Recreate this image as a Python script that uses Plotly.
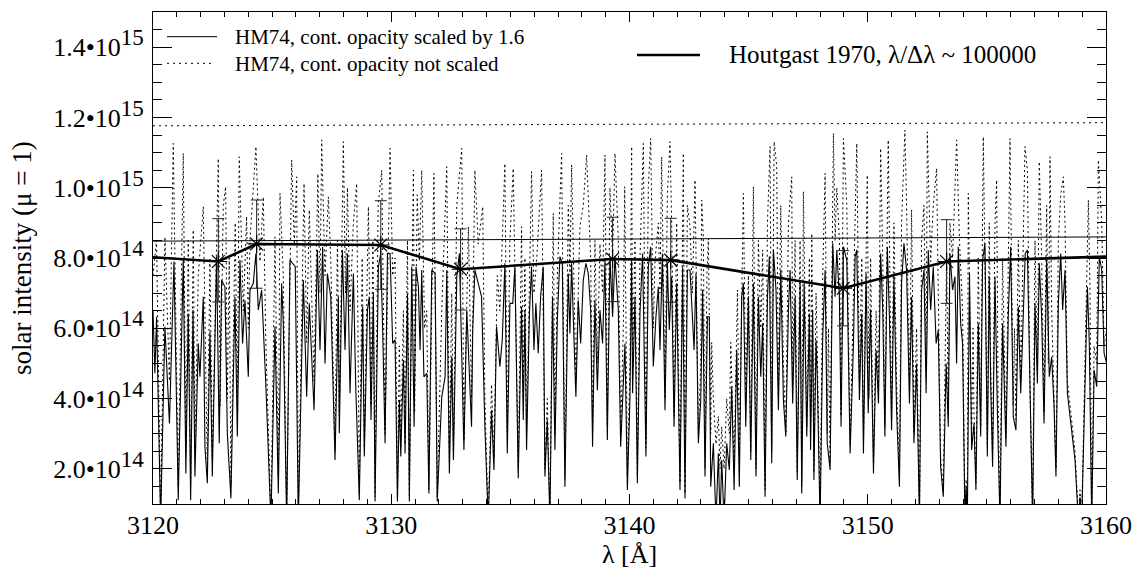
import numpy as np
import plotly.graph_objects as go

# ---------------- data (wavelength in Angstrom, intensity in units of 1e14) ----------------
scaled_wl = [
    3120.00, 3120.08, 3120.15, 3120.32, 3120.50, 3120.69, 3120.88, 3121.06, 3121.27, 3121.38,
    3121.48, 3121.58, 3121.68, 3121.76, 3121.90, 3121.97, 3122.11, 3122.18, 3122.28, 3122.39,
    3122.49, 3122.67, 3122.78, 3122.88, 3123.02, 3123.12, 3123.27, 3123.44, 3123.54, 3123.65,
    3123.76, 3123.86, 3124.00, 3124.07, 3124.21, 3124.32, 3124.42, 3124.56, 3124.74, 3124.95,
    3125.12, 3125.26, 3125.40, 3125.47, 3125.61, 3125.75, 3125.86, 3125.97, 3126.10, 3126.31,
    3126.45, 3126.56,
    3126.76, 3126.90, 3127.01, 3127.12, 3127.22, 3127.32, 3127.46, 3127.64, 3127.78, 3127.82,
    3127.95, 3128.06, 3128.16, 3128.27, 3128.41, 3128.51, 3128.66, 3128.80, 3128.87, 3129.00,
    3129.08, 3129.15, 3129.25, 3129.32, 3129.46, 3129.56, 3129.64, 3129.74, 3129.84, 3129.95,
    3130.06, 3130.16, 3130.26, 3130.34, 3130.40, 3130.51, 3130.58, 3130.68, 3130.76, 3130.86,
    3130.96, 3131.04, 3131.14, 3131.21, 3131.28, 3131.37, 3131.49, 3131.58, 3131.70, 3131.84,
    3131.93, 3132.12, 3132.26, 3132.33, 3132.44, 3132.54, 3132.61, 3132.75, 3132.86, 3132.96,
    3133.05, 3133.17, 3133.28,
    3133.37, 3133.42, 3133.51, 3133.65, 3133.79, 3133.93, 3134.07, 3134.21, 3134.31, 3134.42,
    3134.56, 3134.66, 3134.77, 3134.87, 3134.98, 3135.10, 3135.19, 3135.33, 3135.47, 3135.54,
    3135.61, 3135.68, 3135.80, 3135.89, 3135.99, 3136.07, 3136.17, 3136.27, 3136.38, 3136.45,
    3136.55, 3136.66, 3136.77, 3136.87, 3136.97, 3137.08, 3137.18, 3137.29, 3137.43, 3137.50,
    3137.57, 3137.64, 3137.75, 3137.85, 3137.95, 3138.06, 3138.17, 3138.27, 3138.37, 3138.45,
    3138.55, 3138.65, 3138.76, 3138.87, 3138.97, 3139.07, 3139.18, 3139.29, 3139.39, 3139.53,
    3139.63, 3139.74, 3139.81, 3139.91, 3140.02,
    3140.09, 3140.13, 3140.23, 3140.33, 3140.44, 3140.55, 3140.69, 3140.79, 3140.89, 3141.00,
    3141.11, 3141.21, 3141.28, 3141.38, 3141.49, 3141.59, 3141.67, 3141.77, 3141.87, 3141.98,
    3142.12, 3142.23, 3142.33, 3142.43, 3142.54, 3142.71, 3142.79, 3142.89, 3142.99, 3143.07,
    3143.17, 3143.27, 3143.35, 3143.41, 3143.52, 3143.63, 3143.73, 3143.80, 3143.87, 3143.97,
    3144.08, 3144.19, 3144.29, 3144.39, 3144.50, 3144.61, 3144.71, 3144.78, 3144.88, 3144.99,
    3145.09, 3145.20, 3145.31, 3145.41, 3145.51, 3145.59, 3145.69, 3145.79, 3145.87, 3145.97,
    3146.04, 3146.15, 3146.25, 3146.35, 3146.46, 3146.56, 3146.67,
    3146.74, 3146.85, 3146.95, 3147.04, 3147.16, 3147.23, 3147.33, 3147.44, 3147.55, 3147.60,
    3147.69, 3147.74, 3147.83, 3147.88, 3148.00, 3148.11, 3148.21, 3148.30, 3148.42, 3148.53,
    3148.63, 3148.70, 3148.81, 3148.88, 3148.98, 3149.12, 3149.26, 3149.40, 3149.47, 3149.54,
    3149.65, 3149.75, 3149.82, 3149.93, 3150.02, 3150.12, 3150.24, 3150.35, 3150.45, 3150.54,
    3150.63, 3150.72, 3150.82, 3150.91, 3151.00, 3151.10, 3151.21, 3151.33, 3151.42, 3151.52,
    3151.63, 3151.75, 3151.84, 3151.94, 3152.05, 3152.17, 3152.26, 3152.36, 3152.45, 3152.54,
    3152.64, 3152.75, 3152.87, 3152.96, 3153.06, 3153.17, 3153.29, 3153.38,
    3153.45, 3153.56, 3153.66, 3153.73, 3153.80, 3153.90, 3153.98, 3154.08, 3154.13, 3154.18,
    3154.27, 3154.36, 3154.46, 3154.54, 3154.64, 3154.74, 3154.82, 3154.92, 3155.02, 3155.10,
    3155.16, 3155.24, 3155.34, 3155.44, 3155.55, 3155.66, 3155.80, 3155.90, 3156.00, 3156.11,
    3156.22, 3156.32, 3156.42, 3156.50, 3156.61, 3156.70, 3156.81, 3156.92, 3157.02, 3157.12,
    3157.20, 3157.30, 3157.40, 3157.51, 3157.62, 3157.72, 3157.82, 3157.90, 3158.00, 3158.10,
    3158.18, 3158.28, 3158.38, 3158.49, 3158.60, 3158.70, 3158.84, 3158.91, 3158.98, 3159.12,
    3159.22, 3159.30, 3159.40, 3159.50, 3159.61, 3159.72, 3159.82, 3159.92, 3160.03,
]
scaled_int = [
    6.52, 4.72, 6.33, 0.50, 6.05, 3.29, 7.90, 1.11, 7.99, 1.87,
    6.42, 1.11, 6.52, 1.78, 5.57, 4.62, 6.90, 2.63, 1.59, 5.90,
    1.78, 8.04, 2.73, 7.37, 7.18, 3.01, 1.16, 6.90, 2.92, 7.94,
    5.57, 6.80, 4.62, 7.09, 7.28, 8.13, 6.52, 7.09, 4.34, 0.50,
    6.05, 1.30, 7.28, 6.14, 0.50, 7.94, 7.85, 7.75, 0.50, 7.37,
    4.05, 6.71,
    3.67, 8.23, 5.38, 8.32, 5.00, 7.56, 6.90, 2.25, 6.90, 3.01,
    8.23, 5.38, 8.13, 4.15, 7.56, 4.34, 1.11, 6.61, 2.35, 6.52,
    6.90, 3.39, 6.99, 1.07, 7.75, 8.13, 5.95, 2.73, 8.13, 8.13,
    5.57, 5.67, 1.07, 3.96, 2.35, 5.10, 2.44, 6.99, 1.07, 7.75,
    3.20, 7.75, 7.18, 5.38, 7.66, 4.62, 4.72, 1.30, 7.66, 7.56,
    1.07, 4.05, 4.62, 7.66, 1.87, 5.19, 2.25, 7.47, 8.13, 5.57,
    2.54, 6.52, 4.43,
    3.20, 5.95, 7.66, 7.28, 6.90, 3.20, 0.50, 3.67, 1.97, 6.05,
    4.91, 5.67, 7.85, 2.44, 6.71, 6.71, 7.75, 1.73, 6.61, 3.39,
    6.52, 2.54, 6.42, 7.75, 5.38, 6.71, 5.29, 6.90, 7.75, 1.78,
    3.39, 0.50, 6.90, 2.54, 6.23, 8.04, 7.85, 1.49, 7.56, 5.85,
    7.85, 6.33, 4.05, 6.80, 5.57, 7.37, 7.85, 7.56, 6.52, 2.63,
    6.80, 4.24, 6.52, 5.57, 7.94, 2.82, 8.04, 6.33, 8.04, 6.52,
    2.63, 4.43, 5.57, 1.40, 4.05,
    7.94, 4.15, 6.90, 1.59, 6.42, 8.13, 2.35, 7.75, 8.32, 4.91,
    6.33, 7.18, 5.38, 8.13, 3.67, 7.85, 5.95, 7.47, 3.20, 7.28,
    1.40, 7.75, 1.16, 7.66, 7.66, 5.38, 7.56, 2.73, 3.96, 7.09,
    1.78, 6.33, 6.33, 1.49, 2.73, 0.50, 2.44, 0.50, 2.25, 0.50,
    2.73, 1.97, 4.34, 1.40, 5.38, 1.49, 6.90, 7.28, 3.20, 6.90,
    2.25, 7.28, 1.78, 6.90, 4.62, 6.14, 1.21, 6.90, 8.04, 2.16,
    8.23, 7.09, 3.67, 7.66, 3.96, 2.92, 6.52,
    7.66, 3.86, 6.90, 1.68, 7.28, 1.30, 7.28, 2.92, 6.42, 2.54,
    6.52, 1.68, 5.67, 4.62, 0.50, 5.76, 7.66, 2.73, 1.97, 8.42,
    6.90, 8.23, 6.90, 3.20, 8.32, 7.94, 2.44, 5.57, 8.04, 8.23,
    3.96, 6.42, 2.44, 7.56, 3.58, 6.52, 1.87, 5.38, 3.86, 8.13,
    6.52, 2.92, 8.32, 6.33, 3.10, 7.47, 3.67, 1.49, 7.28, 8.42,
    7.66, 3.86, 6.90, 2.73, 5.00, 0.50, 7.09, 7.66, 4.15, 8.23,
    6.52, 7.75, 5.57, 5.95, 2.06, 1.21, 5.00, 3.20,
    8.13, 7.09, 7.47, 5.00, 8.32, 6.14, 5.57, 0.50, 1.50, 0.50,
    7.56, 2.54, 3.29, 1.40, 6.14, 2.92, 7.94, 8.42, 2.35, 7.47,
    4.43, 2.06, 7.47, 3.67, 0.50, 6.14, 2.63, 6.42, 8.32, 3.48,
    3.10, 6.61, 4.15, 5.76, 8.13, 8.23, 3.96, 0.50, 6.71, 4.43,
    7.85, 6.33, 3.29, 7.94, 4.62, 5.19, 3.77, 1.78, 6.71, 8.13,
    6.52, 7.66, 4.15, 3.48, 2.73, 2.25, 0.50, 1.20, 0.50, 4.15,
    7.18, 5.57, 0.50, 4.81, 4.34, 8.04, 7.66, 5.29, 5.00,
]

unscaled_wl = [
    3120.00, 3120.15, 3120.32, 3120.50, 3120.69, 3120.85, 3121.06, 3121.27, 3121.38, 3121.48,
    3121.58, 3121.69, 3121.76, 3121.90, 3122.11, 3122.28, 3122.39, 3122.49, 3122.74, 3122.82,
    3122.95, 3123.05, 3123.12, 3123.20, 3123.27, 3123.45, 3123.54, 3123.62, 3123.79, 3123.93,
    3124.00, 3124.07, 3124.32, 3124.49, 3124.63, 3124.74, 3124.95, 3125.12, 3125.26, 3125.33,
    3125.47, 3125.61, 3125.82, 3125.93, 3126.03, 3126.10, 3126.34, 3126.45, 3126.56,
    3126.76, 3126.92, 3127.01, 3127.08, 3127.22, 3127.36, 3127.46, 3127.64, 3127.74, 3127.82,
    3127.99, 3128.08, 3128.16, 3128.27, 3128.41, 3128.55, 3128.66, 3128.78, 3128.87, 3129.04,
    3129.15, 3129.23, 3129.32, 3129.45, 3129.60, 3129.74, 3129.95, 3130.06, 3130.16, 3130.26,
    3130.34, 3130.40, 3130.51, 3130.58, 3130.68, 3130.76, 3130.93, 3130.98, 3131.09, 3131.18,
    3131.28, 3131.40, 3131.49, 3131.58, 3131.79, 3131.93, 3132.12, 3132.33, 3132.44, 3132.54,
    3132.61, 3132.75, 3132.96, 3133.05, 3133.24,
    3133.37, 3133.51, 3133.65, 3133.84, 3133.93, 3134.07, 3134.21, 3134.31, 3134.45, 3134.56,
    3134.77, 3134.87, 3134.98, 3135.12, 3135.33, 3135.47, 3135.54, 3135.61, 3135.68, 3135.89,
    3135.99, 3136.10, 3136.31, 3136.45, 3136.55, 3136.66, 3136.80, 3136.87, 3136.97, 3137.15,
    3137.29, 3137.43, 3137.50, 3137.57, 3137.75, 3137.92, 3138.06, 3138.20, 3138.37, 3138.45,
    3138.55, 3138.65, 3138.76, 3138.87, 3138.97, 3139.07, 3139.18, 3139.29, 3139.39, 3139.53,
    3139.63, 3139.74, 3139.80, 3139.91, 3140.02,
    3140.09, 3140.13, 3140.23, 3140.33, 3140.44, 3140.58, 3140.69, 3140.79, 3140.89, 3141.00,
    3141.07, 3141.21, 3141.28, 3141.35, 3141.49, 3141.59, 3141.70, 3141.77, 3141.87, 3141.98,
    3142.12, 3142.26, 3142.33, 3142.43, 3142.54, 3142.64, 3142.75, 3142.89, 3142.99, 3143.03,
    3143.10, 3143.17, 3143.25, 3143.31, 3143.41, 3143.45, 3143.52, 3143.63, 3143.73, 3143.80,
    3143.87, 3143.97, 3144.08, 3144.19, 3144.25, 3144.39, 3144.53, 3144.61, 3144.78, 3144.88,
    3144.99, 3145.09, 3145.20, 3145.31, 3145.41, 3145.51, 3145.59, 3145.69, 3145.79, 3145.90,
    3145.97, 3146.07, 3146.18, 3146.25, 3146.35, 3146.46, 3146.56, 3146.67,
    3146.81, 3146.85, 3146.95, 3147.04, 3147.16, 3147.23, 3147.30, 3147.44, 3147.55, 3147.60,
    3147.65, 3147.74, 3147.83, 3147.88, 3148.00, 3148.11, 3148.21, 3148.30, 3148.35, 3148.42,
    3148.56, 3148.63, 3148.70, 3148.81, 3148.88, 3148.98, 3149.12, 3149.26, 3149.40, 3149.54,
    3149.65, 3149.75, 3149.82, 3149.98, 3150.05, 3150.12, 3150.24, 3150.35, 3150.45, 3150.54,
    3150.63, 3150.72, 3150.86, 3151.00, 3151.10, 3151.21, 3151.33, 3151.42, 3151.56, 3151.63,
    3151.75, 3151.84, 3151.94, 3152.05, 3152.17, 3152.26, 3152.36, 3152.45, 3152.50, 3152.64,
    3152.75, 3152.89, 3152.96, 3153.06, 3153.17, 3153.31, 3153.38,
    3153.45, 3153.56, 3153.66, 3153.73, 3153.85, 3153.98, 3154.08, 3154.13, 3154.18, 3154.22,
    3154.36, 3154.42, 3154.46, 3154.54, 3154.64, 3154.74, 3154.85, 3155.02, 3155.10, 3155.16,
    3155.24, 3155.34, 3155.41, 3155.47, 3155.55, 3155.66, 3155.80, 3155.90, 3155.97, 3156.11,
    3156.16, 3156.22, 3156.32, 3156.42, 3156.50, 3156.60, 3156.70, 3156.81, 3156.92, 3157.02,
    3157.12, 3157.20, 3157.30, 3157.40, 3157.51, 3157.58, 3157.65, 3157.72, 3157.82, 3157.90,
    3158.00, 3158.10, 3158.21, 3158.28, 3158.38, 3158.49, 3158.60, 3158.70, 3158.84, 3158.91,
    3158.98, 3159.12, 3159.26, 3159.33, 3159.40, 3159.50, 3159.61, 3159.68, 3159.82, 3159.92,
    3160.03,
]
unscaled_int = [
    7.50, 8.50, 0.60, 8.60, 4.50, 11.26, 1.50, 10.98, 2.50, 8.50,
    1.50, 8.80, 2.50, 7.50, 9.46, 2.00, 8.00, 2.30, 10.83, 3.80,
    9.50, 10.03, 4.00, 8.00, 1.50, 9.00, 4.00, 10.88, 6.50, 9.18,
    6.00, 8.50, 11.17, 7.90, 9.74, 5.50, 0.60, 8.60, 1.80, 9.84,
    7.50, 0.60, 10.79, 8.40, 10.31, 0.80, 10.12, 5.60, 9.37,
    4.50, 10.40, 7.00, 11.36, 7.50, 9.74, 8.00, 2.50, 8.50, 3.50,
    11.31, 7.00, 10.00, 6.50, 9.00, 10.12, 1.30, 8.00, 2.60, 9.46,
    3.80, 8.50, 1.20, 9.50, 10.50, 3.00, 11.12, 7.50, 8.00, 1.20,
    5.50, 2.60, 6.50, 2.70, 8.50, 1.20, 10.50, 3.60, 9.80, 7.90,
    10.50, 6.00, 6.50, 1.40, 10.41, 1.20, 6.50, 10.60, 2.20, 7.00,
    2.50, 9.50, 11.12, 2.80, 8.89,
    4.00, 10.50, 8.40, 9.46, 4.00, 0.60, 4.40, 2.30, 7.50, 6.50,
    10.69, 3.00, 8.50, 10.55, 2.00, 8.89, 4.00, 8.00, 3.00, 10.46,
    7.00, 7.90, 10.50, 2.00, 4.00, 0.60, 9.27, 3.00, 7.50, 10.98,
    1.70, 9.50, 7.50, 10.65, 4.50, 8.90, 9.50, 10.93, 8.00, 3.00,
    8.50, 5.00, 8.40, 7.00, 10.93, 3.20, 10.00, 8.00, 10.98, 8.50,
    3.00, 6.00, 10.03, 1.80, 5.00,
    11.17, 5.00, 8.50, 1.80, 8.00, 11.26, 2.60, 10.00, 11.40, 6.00,
    7.90, 9.00, 7.00, 10.88, 4.00, 9.80, 11.31, 9.00, 3.50, 9.00,
    1.60, 10.98, 1.30, 9.50, 8.90, 7.00, 10.22, 3.00, 5.00, 9.65,
    8.60, 2.00, 7.50, 8.56, 3.00, 5.60, 4.00, 2.70, 3.50, 2.00,
    3.20, 2.00, 4.00, 3.00, 5.60, 2.00, 7.09, 2.50, 9.84, 4.00,
    7.50, 2.50, 10.03, 2.00, 8.50, 6.00, 8.23, 1.40, 9.00, 11.17,
    2.50, 11.31, 10.60, 4.00, 9.50, 5.00, 3.00, 8.99,
    10.31, 4.50, 8.50, 1.90, 8.50, 1.50, 9.89, 3.20, 8.00, 2.80,
    8.70, 1.90, 7.00, 5.50, 0.60, 7.50, 10.41, 3.00, 6.00, 2.20,
    11.55, 8.50, 10.00, 8.50, 3.50, 11.40, 9.50, 2.70, 7.00, 11.26,
    4.50, 8.00, 2.70, 10.36, 4.00, 8.00, 2.10, 6.50, 4.20, 11.12,
    8.00, 3.20, 11.36, 3.40, 9.00, 4.50, 1.70, 9.00, 11.64, 9.50,
    4.20, 9.37, 3.00, 6.00, 0.60, 8.50, 9.50, 5.00, 11.59, 7.90,
    9.50, 10.55, 7.00, 2.30, 1.40, 8.04, 3.50,
    9.00, 8.00, 10.00, 11.36, 8.50, 6.50, 0.60, 1.70, 0.60, 9.84,
    2.80, 6.00, 3.60, 1.60, 8.00, 3.20, 11.45, 2.60, 9.00, 5.00,
    2.30, 9.00, 10.22, 4.00, 0.60, 8.00, 2.90, 9.00, 11.40, 3.80,
    6.00, 3.40, 8.50, 4.50, 7.50, 11.17, 10.50, 4.30, 0.60, 8.50,
    4.80, 10.74, 8.00, 3.60, 9.50, 5.00, 10.88, 6.50, 4.00, 2.00,
    8.50, 9.80, 10.31, 9.00, 4.50, 3.80, 3.00, 2.50, 0.60, 1.40,
    0.60, 5.00, 9.65, 7.00, 0.60, 5.50, 5.00, 10.79, 9.00, 5.50,
    6.00,
]

# continuum levels of the two model spectra
cont_wl = [3120.0, 3160.0]
cont_scaled = [8.48, 8.60]
cont_unscaled = [11.76, 11.85]

# Houtgast (1970) observed points with error bars
hout_wl = [3122.74, 3124.35, 3129.56, 3132.91, 3139.29, 3141.73, 3148.97, 3153.31]
hout_int = [7.90, 8.40, 8.37, 7.68, 7.97, 7.94, 7.14, 7.90]
hout_err_up = [1.22, 1.25, 1.26, 1.15, 1.19, 1.19, 1.07, 1.19]
hout_err_dn = [1.15, 1.26, 1.26, 1.16, 1.21, 1.20, 1.07, 1.19]
hout_edge_wl = [3120.0, 3160.0]
hout_edge_int = [8.02, 8.04]

y_tick_vals = [2, 4, 6, 8, 10, 12, 14]
y_tick_text = ["2.0•10", "4.0•10", "6.0•10", "8.0•10", "1.0•10", "1.2•10", "1.4•10"]
y_tick_exp = ["14", "14", "14", "14", "15", "15", "15"]

UNIT = 1e14
FONT = "Liberation Serif, Times New Roman, serif"

fig = go.Figure()

fig.add_trace(go.Scatter(
    x=unscaled_wl, y=np.array(unscaled_int) * UNIT, mode="lines",
    line=dict(color="black", width=1, dash="2px,3px"), hoverinfo="skip", showlegend=False))
fig.add_trace(go.Scatter(
    x=scaled_wl, y=np.array(scaled_int) * UNIT, mode="lines",
    line=dict(color="black", width=1.1), hoverinfo="skip", showlegend=False))
fig.add_trace(go.Scatter(
    x=cont_wl, y=np.array(cont_unscaled) * UNIT, mode="lines",
    line=dict(color="black", width=1, dash="2px,4px"), showlegend=False))
fig.add_trace(go.Scatter(
    x=cont_wl, y=np.array(cont_scaled) * UNIT, mode="lines",
    line=dict(color="black", width=1), showlegend=False))

line_wl = [hout_edge_wl[0]] + hout_wl + [hout_edge_wl[1]]
line_int = [hout_edge_int[0]] + hout_int + [hout_edge_int[1]]
fig.add_trace(go.Scatter(
    x=line_wl, y=np.array(line_int) * UNIT, mode="lines",
    line=dict(color="black", width=2.6), showlegend=False))
fig.add_trace(go.Scatter(
    x=hout_wl, y=np.array(hout_int) * UNIT, mode="markers",
    marker=dict(symbol="asterisk-open", size=15, color="black", line=dict(width=1.2, color="black")),
    error_y=dict(type="data", symmetric=False,
                 array=np.array(hout_err_up) * UNIT, arrayminus=np.array(hout_err_dn) * UNIT,
                 color="#222222", thickness=1, width=6),
    showlegend=False))

ticktext = [f"{t}<sup><span style='font-size:23px'>{e}</span></sup>" for t, e in zip(y_tick_text, y_tick_exp)]

fig.update_layout(
    width=1137, height=571,
    margin=dict(l=153, r=31, t=12, b=67, autoexpand=False),
    plot_bgcolor="white", paper_bgcolor="white",
    font=dict(family=FONT, color="black", size=26),
    showlegend=False,
    xaxis=dict(
        range=[3120, 3160], tickvals=[3120, 3130, 3140, 3150, 3160],
        ticks="inside", ticklen=10, tickwidth=1, tickcolor="black",
        minor=dict(ticks="inside", ticklen=5, dtick=1, tickcolor="black", tickwidth=1),
        showline=True, linecolor="black", linewidth=1, mirror="ticks",
        showgrid=False, zeroline=False, automargin=False,
        tickfont=dict(family=FONT, size=26, color="black"), ticklabelstandoff=-2,
    ),
    yaxis=dict(
        range=[1e14, 1.5e15],
        tickvals=[v * UNIT for v in y_tick_vals], ticktext=ticktext,
        ticks="inside", ticklen=19, tickwidth=1, tickcolor="black",
        minor=dict(ticks="inside", ticklen=9, dtick=0.5e14, tick0=0, tickcolor="black", tickwidth=1),
        showline=True, linecolor="black", linewidth=1, mirror="ticks",
        showgrid=False, zeroline=False, automargin=False,
        tickfont=dict(family=FONT, size=26, color="black"), ticklabelstandoff=3,
    ),
)

# axis titles
fig.add_annotation(text="solar intensity (μ = 1)", xref="paper", yref="paper",
                   x=-0.1375, y=0.5, xanchor="center", yanchor="middle", textangle=-90,
                   showarrow=False, font=dict(family=FONT, size=27, color="black"))
fig.add_annotation(text="λ [Å]", xref="paper", yref="paper",
                   x=0.5, y=-0.103, xanchor="center", yanchor="middle",
                   showarrow=False, font=dict(family=FONT, size=26, color="black"))

# legend (drawn by hand, like the original IDL legend)
fig.add_shape(type="line", xref="paper", yref="paper", x0=0.0147, x1=0.0672, y0=0.9498, y1=0.9498,
              line=dict(color="black", width=1))
fig.add_shape(type="line", xref="paper", yref="paper", x0=0.0147, x1=0.063, y0=0.8957, y1=0.8957,
              line=dict(color="black", width=1, dash="2px,4px"))
fig.add_annotation(text="HM74, cont. opacity scaled by 1.6", xref="paper", yref="paper",
                   x=0.0839, y=0.9492, xanchor="left", yanchor="middle", showarrow=False,
                   font=dict(family=FONT, size=21, color="black"))
fig.add_annotation(text="HM74, cont. opacity not scaled", xref="paper", yref="paper",
                   x=0.0839, y=0.8953, xanchor="left", yanchor="middle", showarrow=False,
                   font=dict(family=FONT, size=21, color="black"))
fig.add_shape(type="line", xref="paper", yref="paper", x0=0.5079, x1=0.574, y0=0.9126, y1=0.9126,
              line=dict(color="black", width=2.6))
fig.add_annotation(text="Houtgast 1970, λ/Δλ ~ 100000", xref="paper", yref="paper",
                   x=0.6023, y=0.9146, xanchor="left", yanchor="middle", showarrow=False,
                   font=dict(family=FONT, size=25, color="black"))

fig.write_html("out.html")
